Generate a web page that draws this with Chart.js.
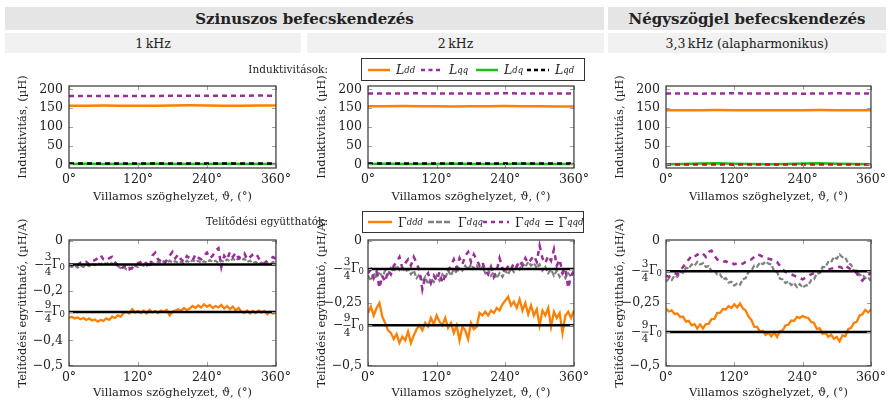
<!DOCTYPE html>
<html lang="hu">
<head>
<meta charset="UTF-8">
<title>Induktivitások és telítődési együtthatók</title>
<script src="https://cdn.jsdelivr.net/npm/chart.js"></script>
<style>
  body { margin: 0; width: 890px; height: 401px; position: relative; overflow: hidden; background: #fff;
         font-family: "DejaVu Serif", "Liberation Serif", serif; color: #222; }
  .cell { position: absolute; display: flex; align-items: center; justify-content: center; }
  .h1 { top: 7px; height: 23px; background: #e5e5e5; font-weight: bold; font-size: 15px; }
  .h2 { top: 33px; height: 20px; background: #f1f1f1; font-size: 12.5px; }
  canvas { position: absolute; }
  .lab { position: absolute; font-size: 10.5px; white-space: nowrap; text-align: right; z-index: 2; }
  .legend { position: absolute; border: 1px solid #333; background: #fff; z-index: 2; }
  .item { position: absolute; top: 0; height: 100%; display: flex; align-items: center; font-size: 12.5px; white-space: nowrap; }
  .item svg { margin-right: 6px; }
  sub { font-size: 8.5px; font-style: italic; vertical-align: -3px; }
</style>
</head>
<body>
  <div class="cell h1" style="left:5px; width:599px;">Szinuszos befecskendezés</div>
  <div class="cell h1" style="left:608px; width:278px;">Négyszögjel befecskendezés</div>
  <div class="cell h2" style="left:5px; width:296px;">1&#8201;kHz</div>
  <div class="cell h2" style="left:307px; width:297px;">2&#8201;kHz</div>
  <div class="cell h2" style="left:608px; width:278px;">3,3&#8201;kHz (alapharmonikus)</div>

  <div class="lab" style="left:180px; width:148px; top:63px;">Induktivitások:</div>
  <div class="legend" style="left:361px; top:58px; width:222px; height:21px;">
    <div class="item" style="left:6px;"><svg width="22" height="6"><line x1="0" y1="3" x2="22" y2="3" stroke="#ff8000" stroke-width="2.5"/></svg><i>L</i><sub>dd</sub></div>
    <div class="item" style="left:59px;"><svg width="22" height="6"><line x1="0" y1="3" x2="22" y2="3" stroke="#9b2d9b" stroke-width="2.5" stroke-dasharray="4 3.5"/></svg><i>L</i><sub>qq</sub></div>
    <div class="item" style="left:114px;"><svg width="22" height="6"><line x1="0" y1="3" x2="22" y2="3" stroke="#1cbf1c" stroke-width="2.5"/></svg><i>L</i><sub>dq</sub></div>
    <div class="item" style="left:165px;"><svg width="22" height="6"><line x1="0" y1="3" x2="22" y2="3" stroke="#000" stroke-width="2.5" stroke-dasharray="4 3"/></svg><i>L</i><sub>qd</sub></div>
  </div>

  <div class="lab" style="left:150px; width:178px; top:215px;">Telítődési együtthatók:</div>
  <div class="legend" style="left:362px; top:211px; width:220px; height:20px;">
    <div class="item" style="left:5px;"><svg width="24" height="6"><line x1="0" y1="3" x2="24" y2="3" stroke="#ff8000" stroke-width="2.5"/></svg>Γ<sub>ddd</sub></div>
    <div class="item" style="left:65px;"><svg width="24" height="6"><line x1="0" y1="3" x2="24" y2="3" stroke="#808080" stroke-width="2.5" stroke-dasharray="6 2"/></svg>Γ<sub>dqq</sub></div>
    <div class="item" style="left:120px;"><svg width="26" height="6"><line x1="0" y1="3" x2="26" y2="3" stroke="#9b2d9b" stroke-width="2.5" stroke-dasharray="4 4"/></svg>Γ<sub>qdq</sub>&nbsp;=&nbsp;Γ<sub>qqd</sub></div>
  </div>

  <canvas id="l1" width="295" height="150" style="left:0px; top:55px;"></canvas>
  <canvas id="l2" width="294" height="150" style="left:299px; top:55px;"></canvas>
  <canvas id="l3" width="293" height="150" style="left:597px; top:55px;"></canvas>
  <canvas id="g1" width="295" height="196" style="left:0px; top:205px;"></canvas>
  <canvas id="g2" width="294" height="196" style="left:299px; top:205px;"></canvas>
  <canvas id="g3" width="293" height="196" style="left:597px; top:205px;"></canvas>

<script>
// electrical angle, degrees
const thetaC = [0, 30, 60, 90, 120, 150, 180, 210, 240, 270, 300, 330, 360];
const theta = [0, 5, 10, 15, 20, 25, 30, 35, 40, 45, 50, 55, 60, 65, 70, 75, 80, 85, 90, 95, 100, 105, 110, 115,
  120, 125, 130, 135, 140, 145, 150, 155, 160, 165, 170, 175, 180, 185, 190, 195, 200, 205, 210, 215, 220, 225,
  230, 235, 240, 245, 250, 255, 260, 265, 270, 275, 280, 285, 290, 295, 300, 305, 310, 315, 320, 325, 330, 335,
  340, 345, 350, 355, 360];

const xTicks = [0, 120, 240, 360];
const yTicksL = [0, 50, 100, 150, 200];
const yTicksG1 = [0, -0.2, -0.4, -0.5];
const yTicksG23 = [0, -0.25, -0.5];
const fracNums = [3, 9];          // -3/4 G0 and -9/4 G0
const gamma0 = [0.127, 0.151, 0.163];

// inductances, uH
const Ldd1 = [156, 156.5, 157, 156.5, 156, 156.5, 157, 157.5, 157, 156.5, 156.5, 157, 157];
const Lqq1 = [182, 182, 182.5, 182, 182, 182.5, 183, 183, 183, 183, 183, 183.5, 183];
const Ldq1 = [1, 1.2, 1, 0.8, 1, 1.2, 1, 0.8, 1, 1.2, 1, 0.8, 1];
const Lqd1 = [2, 2, 2.2, 2, 1.8, 2, 2, 2.2, 2, 1.8, 2, 2, 2];
const Ldd2 = [155, 155, 155.5, 155, 155, 154.5, 155, 155, 155.5, 155, 155, 154.5, 154.5];
const Lqq2 = [189, 189, 189, 189.5, 189, 189, 189, 189, 189.5, 189, 189, 189, 189];
const Ldq2 = [1, 1.2, 1, 0.8, 1, 1.2, 1, 0.8, 1, 1.2, 1, 0.8, 1];
const Lqd2 = [2, 2.2, 2, 1.8, 2, 2.2, 2, 1.8, 2, 2.2, 2, 1.8, 2];
const Ldd3 = [144, 144, 144.5, 145, 144.5, 144, 144, 144, 144.5, 145, 144.5, 144, 144];
const Lqq3 = [189, 189, 188.5, 189, 189.5, 189, 189, 189, 188.5, 189, 189.5, 189, 189];
const Ldq3 = [0, 1, 2, 2.5, 1.5, 0.5, 0, 1, 2, 2.5, 1.5, 0.5, 0];
const Lqd3 = [-1, -0.8, -0.5, -0.7, -1, -0.8, -0.5, -0.6, -0.9, -0.7, -0.5, -0.8, -1];

// saturation coefficients, uH/A -- 1 kHz
const Gddd1 = [-0.31, -0.305, -0.312, -0.308, -0.315, -0.31, -0.318, -0.312, -0.32, -0.316, -0.325, -0.318, -0.322,
  -0.312, -0.318, -0.305, -0.31, -0.3, -0.305, -0.29, -0.285, -0.292, -0.275, -0.288, -0.282, -0.29, -0.28, -0.292,
  -0.278, -0.288, -0.282, -0.29, -0.28, -0.285, -0.278, -0.3, -0.285, -0.28, -0.275, -0.282, -0.27, -0.278, -0.272,
  -0.262, -0.27, -0.26, -0.268, -0.255, -0.265, -0.258, -0.27, -0.262, -0.268, -0.258, -0.272, -0.262, -0.275,
  -0.265, -0.28, -0.27, -0.285, -0.29, -0.28, -0.292, -0.282, -0.29, -0.28, -0.288, -0.282, -0.295, -0.285, -0.292, -0.288];
const Gdqq1 = [-0.1, -0.105, -0.098, -0.108, -0.1, -0.105, -0.095, -0.102, -0.092, -0.098, -0.09, -0.095, -0.088,
  -0.094, -0.086, -0.092, -0.095, -0.102, -0.11, -0.105, -0.115, -0.108, -0.112, -0.1, -0.105, -0.095, -0.1, -0.09,
  -0.098, -0.088, -0.095, -0.085, -0.092, -0.082, -0.09, -0.08, -0.088, -0.082, -0.09, -0.085, -0.092, -0.08, -0.088,
  -0.078, -0.085, -0.08, -0.09, -0.082, -0.088, -0.078, -0.085, -0.08, -0.09, -0.08, -0.085, -0.075, -0.082, -0.072,
  -0.08, -0.07, -0.078, -0.072, -0.085, -0.08, -0.09, -0.085, -0.095, -0.088, -0.098, -0.09, -0.095, -0.085, -0.09];
const Gqdq1 = [-0.095, -0.1, -0.09, -0.098, -0.088, -0.092, -0.085, -0.095, -0.082, -0.078, -0.07, -0.058, -0.075,
  -0.08, -0.07, -0.065, -0.085, -0.1, -0.112, -0.105, -0.1, -0.115, -0.108, -0.098, -0.09, -0.085, -0.078, -0.095,
  -0.11, -0.06, -0.048, -0.075, -0.082, -0.095, -0.078, -0.06, -0.045, -0.07, -0.055, -0.075, -0.085, -0.062, -0.07,
  -0.08, -0.055, -0.068, -0.075, -0.06, -0.048, -0.07, -0.06, -0.04, -0.03, -0.105, -0.06, -0.075, -0.045, -0.065,
  -0.048, -0.07, -0.06, -0.05, -0.075, -0.065, -0.055, -0.05, -0.07, -0.085, -0.09, -0.08, -0.072, -0.065, -0.075];

// 2 kHz
const Gddd2 = [-0.29, -0.265, -0.3, -0.27, -0.25, -0.305, -0.33, -0.36, -0.37, -0.395, -0.375, -0.41, -0.385, -0.4,
  -0.365, -0.41, -0.38, -0.355, -0.34, -0.36, -0.33, -0.345, -0.31, -0.335, -0.3, -0.325, -0.34, -0.31, -0.35, -0.33,
  -0.37, -0.34, -0.4, -0.345, -0.36, -0.395, -0.33, -0.355, -0.345, -0.29, -0.3, -0.285, -0.3, -0.28, -0.29, -0.27,
  -0.28, -0.255, -0.24, -0.225, -0.26, -0.245, -0.27, -0.235, -0.28, -0.25, -0.295, -0.26, -0.3, -0.275, -0.34,
  -0.28, -0.3, -0.27, -0.345, -0.285, -0.31, -0.29, -0.37, -0.3, -0.285, -0.31, -0.28];
const Gdqq2 = [-0.14, -0.16, -0.13, -0.15, -0.125, -0.145, -0.12, -0.135, -0.11, -0.125, -0.1, -0.118, -0.108,
  -0.125, -0.115, -0.135, -0.12, -0.15, -0.135, -0.165, -0.145, -0.175, -0.15, -0.165, -0.14, -0.16, -0.135, -0.15,
  -0.12, -0.14, -0.112, -0.13, -0.105, -0.12, -0.1, -0.115, -0.095, -0.112, -0.1, -0.12, -0.105, -0.13, -0.115,
  -0.14, -0.125, -0.15, -0.13, -0.145, -0.12, -0.135, -0.11, -0.125, -0.1, -0.115, -0.09, -0.105, -0.085, -0.1,
  -0.09, -0.11, -0.095, -0.12, -0.105, -0.13, -0.115, -0.14, -0.12, -0.145, -0.125, -0.15, -0.13, -0.145, -0.125];
const Gqdq2 = [-0.13, -0.115, -0.15, -0.125, -0.19, -0.14, -0.165, -0.12, -0.135, -0.1, -0.085, -0.065, -0.11,
  -0.09, -0.075, -0.1, -0.065, -0.09, -0.12, -0.195, -0.145, -0.13, -0.17, -0.14, -0.16, -0.125, -0.17, -0.14,
  -0.12, -0.1, -0.075, -0.11, -0.07, -0.095, -0.06, -0.045, -0.085, -0.055, -0.075, -0.1, -0.085, -0.12, -0.135,
  -0.105, -0.145, -0.12, -0.07, -0.11, -0.13, -0.1, -0.115, -0.09, -0.105, -0.08, -0.1, -0.07, -0.09, -0.075, -0.06,
  -0.085, -0.02, -0.07, -0.09, -0.06, -0.08, -0.035, -0.1, -0.075, -0.13, -0.11, -0.19, -0.14, -0.12];

// 3,3 kHz
const Gddd3 = [-0.272, -0.284, -0.28, -0.294, -0.292, -0.306, -0.305, -0.325, -0.322, -0.34, -0.335, -0.352, -0.336,
  -0.352, -0.335, -0.334, -0.315, -0.314, -0.29, -0.29, -0.274, -0.276, -0.262, -0.27, -0.255, -0.268, -0.252,
  -0.272, -0.28, -0.305, -0.318, -0.345, -0.346, -0.365, -0.362, -0.378, -0.37, -0.384, -0.368, -0.386, -0.364,
  -0.36, -0.34, -0.337, -0.32, -0.322, -0.306, -0.31, -0.302, -0.308, -0.31, -0.326, -0.33, -0.354, -0.352, -0.374,
  -0.37, -0.386, -0.377, -0.394, -0.386, -0.404, -0.38, -0.384, -0.355, -0.35, -0.33, -0.326, -0.3, -0.295, -0.278,
  -0.288, -0.276];
const Gdqq3 = [-0.165, -0.152, -0.158, -0.14, -0.145, -0.125, -0.128, -0.108, -0.112, -0.095, -0.1, -0.085, -0.095,
  -0.09, -0.105, -0.102, -0.122, -0.118, -0.136, -0.135, -0.155, -0.15, -0.168, -0.165, -0.18, -0.172, -0.176,
  -0.155, -0.15, -0.125, -0.12, -0.1, -0.104, -0.088, -0.094, -0.084, -0.092, -0.095, -0.122, -0.126, -0.152,
  -0.155, -0.17, -0.163, -0.178, -0.17, -0.186, -0.174, -0.188, -0.18, -0.178, -0.158, -0.155, -0.132, -0.13,
  -0.105, -0.106, -0.085, -0.086, -0.066, -0.072, -0.055, -0.066, -0.068, -0.09, -0.096, -0.12, -0.12, -0.138,
  -0.135, -0.15, -0.146, -0.162];
const Gqdq3 = [-0.14, -0.145, -0.138, -0.13, -0.135, -0.12, -0.105, -0.09, -0.075, -0.06, -0.065, -0.055, -0.06,
  -0.052, -0.065, -0.045, -0.04, -0.06, -0.075, -0.08, -0.085, -0.082, -0.09, -0.088, -0.095, -0.09, -0.095, -0.092,
  -0.085, -0.078, -0.075, -0.065, -0.055, -0.058, -0.065, -0.07, -0.072, -0.075, -0.078, -0.085, -0.1, -0.115,
  -0.125, -0.13, -0.135, -0.14, -0.145, -0.15, -0.155, -0.148, -0.14, -0.135, -0.13, -0.128, -0.125, -0.12, -0.118,
  -0.115, -0.112, -0.11, -0.108, -0.105, -0.11, -0.1, -0.108, -0.115, -0.12, -0.13, -0.15, -0.16, -0.145, -0.138, -0.13];

const serif = '"DejaVu Serif", "Liberation Serif", serif';
const ORANGE = '#ff8000', PURPLE = '#9b2d9b', GREEN = '#1cbf1c', GRAY = '#808080', RED = '#d01010';

function pts(xs, ys) {
  return xs.map((x, i) => ({ x: x, y: ys[i] }));
}
function line(xs, ys, color, width, dash) {
  return { data: pts(xs, ys), borderColor: color, borderWidth: width, borderDash: dash || [],
           pointRadius: 0, fill: false, tension: 0 };
}
function fmt(v) {
  if (v === 0) return '0';
  return (v < 0 ? '\u2212' : '') + String(Math.abs(v)).replace('.', ',');
}

// box around the plot, inward tick marks, and the -k/4 G0 labels
const framePlugin = {
  id: 'frame',
  afterDraw(chart, args, opts) {
    const { ctx, chartArea: a, scales: { x, y } } = chart;
    ctx.save();
    ctx.strokeStyle = '#a0a0a0';
    ctx.lineWidth = 1;
    ctx.beginPath();
    y.ticks.forEach(t => {
      const p = Math.round(y.getPixelForValue(t.value)) + 0.5;
      ctx.moveTo(a.left, p); ctx.lineTo(a.left + 4, p);
      ctx.moveTo(a.right, p); ctx.lineTo(a.right - 4, p);
    });
    x.ticks.forEach(t => {
      const p = Math.round(x.getPixelForValue(t.value)) + 0.5;
      ctx.moveTo(p, a.bottom); ctx.lineTo(p, a.bottom - 4);
      ctx.moveTo(p, a.top); ctx.lineTo(p, a.top + 4);
    });
    ctx.stroke();
    ctx.strokeStyle = '#333';
    ctx.lineWidth = 1.2;
    ctx.strokeRect(a.left, a.top, a.right - a.left, a.bottom - a.top);

    if (opts.gamma) {
      ctx.fillStyle = '#222';
      ctx.textBaseline = 'middle';
      opts.nums.forEach(k => {
        const p = y.getPixelForValue(-k / 4 * opts.gamma);
        const x0 = a.left;
        ctx.font = '12px ' + serif;
        ctx.textAlign = 'right';
        ctx.fillText('\u2212', x0 - 25, p);
        ctx.font = '10.5px ' + serif;
        ctx.textAlign = 'center';
        ctx.fillText(String(k), x0 - 21, p - 7);
        ctx.fillText('4', x0 - 21, p + 7.5);
        ctx.fillRect(x0 - 24.5, p - 0.4, 7, 0.8);
        ctx.textAlign = 'left';
        ctx.font = '12px ' + serif;
        ctx.fillText('\u0393', x0 - 17, p);
        ctx.font = '8.5px ' + serif;
        ctx.fillText('0', x0 - 9.5, p + 3);
      });
    }
    ctx.restore();
  }
};

function panel(id, datasets, cfg) {
  const fracVals = cfg.gamma ? cfg.nums.map(k => -k / 4 * cfg.gamma) : [];
  return new Chart(document.getElementById(id), {
    type: 'line',
    data: { datasets: datasets },
    options: {
      responsive: false,
      animation: false,
      events: [],
      layout: { padding: { top: cfg.top, right: cfg.right, left: 0, bottom: 0 } },
      plugins: {
        legend: { display: false },
        tooltip: { enabled: false },
        frame: { gamma: cfg.gamma || 0, nums: cfg.nums || [] }
      },
      scales: {
        x: {
          type: 'linear', min: 0, max: 360,
          afterBuildTicks: s => { s.ticks = xTicks.map(v => ({ value: v })); },
          afterFit: s => { s.height = cfg.xh; },
          grid: { display: false, drawTicks: false },
          border: { display: false },
          ticks: { padding: 4, color: '#222', autoSkip: false, maxRotation: 0,
                   font: { family: serif, size: 12.5 }, callback: v => v + '°' },
          title: { display: true, text: 'Villamos szöghelyzet, ϑ, (°)', color: '#222',
                   font: { family: serif, size: 11.5 }, padding: { top: 0, bottom: 1 } }
        },
        y: {
          type: 'linear', min: cfg.min, max: cfg.max,
          afterBuildTicks: s => { s.ticks = cfg.ticks.concat(fracVals).map(v => ({ value: v })); },
          afterFit: s => { s.width = 69; },
          grid: { display: false, drawTicks: false },
          border: { display: false },
          ticks: { padding: 6, color: '#222', autoSkip: false,
                   font: { family: serif, size: 12.5 },
                   callback: v => fracVals.some(f => Math.abs(f - v) < 1e-9) ? '' : fmt(v) },
          title: { display: true, text: cfg.ytitle, color: '#222',
                   font: { family: serif, size: 11.5 }, padding: { top: 16, bottom: 0 } }
        }
      }
    },
    plugins: [framePlugin]
  });
}

const Ltitle = 'Induktivitás, (µH)';
const Gtitle = 'Telítődési együttható, (µH/A)';
const topCfg = right => ({ top: 31, right: right, xh: 37, min: -10, max: 209, ticks: yTicksL, ytitle: Ltitle });
const botCfg = (right, ticks, g) => ({ top: 35, right: right, xh: 35, min: -0.503, max: 0.003, ticks: ticks,
                                       ytitle: Gtitle, gamma: g, nums: fracNums });

panel('l1', [line(thetaC, Lqd1, '#000', 2.5, [5, 4]), line(thetaC, Ldq1, GREEN, 2.5),
             line(thetaC, Lqq1, PURPLE, 2.5, [5, 4]), line(thetaC, Ldd1, ORANGE, 2.5)], topCfg(16));
panel('l2', [line(thetaC, Lqd2, '#000', 2.5, [5, 4]), line(thetaC, Ldq2, GREEN, 2.5),
             line(thetaC, Lqq2, PURPLE, 2.5, [5, 4]), line(thetaC, Ldd2, ORANGE, 2.5)], topCfg(16));
panel('l3', [line(thetaC, Lqd3, RED, 2.5, [5, 4]), line(thetaC, Ldq3, GREEN, 2.5),
             line(thetaC, Lqq3, PURPLE, 2.5, [5, 4]), line(thetaC, Ldd3, ORANGE, 2.5)], topCfg(14));

function refLines(g) {
  return fracNums.map(k => line([0, 360], [-k / 4 * g, -k / 4 * g], '#000', 2.5));
}
panel('g1', refLines(gamma0[0]).concat([line(theta, Gqdq1, PURPLE, 2.5, [5, 5]),
      line(theta, Gdqq1, GRAY, 2.2, [5, 2]), line(theta, Gddd1, ORANGE, 2.3)]), botCfg(16, yTicksG1, gamma0[0]));
panel('g2', refLines(gamma0[1]).concat([line(theta, Gqdq2, PURPLE, 2.5, [5, 5]),
      line(theta, Gdqq2, GRAY, 2.2, [5, 2]), line(theta, Gddd2, ORANGE, 2.3)]), botCfg(16, yTicksG23, gamma0[1]));
panel('g3', refLines(gamma0[2]).concat([line(theta, Gqdq3, PURPLE, 2.5, [5, 5]),
      line(theta, Gdqq3, GRAY, 2.2, [5, 2]), line(theta, Gddd3, ORANGE, 2.3)]), botCfg(14, yTicksG23, gamma0[2]));
</script>
</body>
</html>
